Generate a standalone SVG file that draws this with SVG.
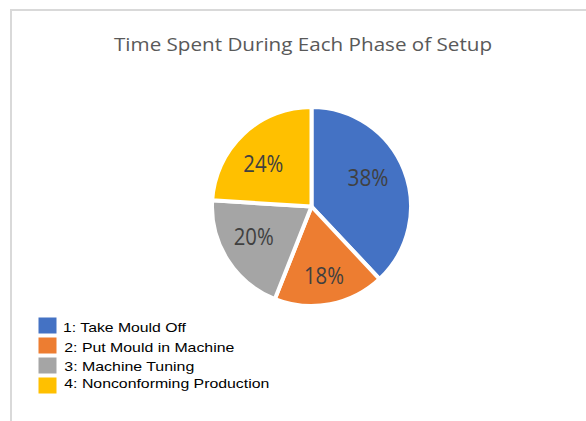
<svg xmlns="http://www.w3.org/2000/svg" width="586" height="421" viewBox="0 0 586 421">
  <style>
    .title { font-family: "Open Sans", "Liberation Sans", sans-serif; font-size: 18px; fill: #595959; }
    .pct { font-family: "Open Sans", "Liberation Sans", sans-serif; font-size: 23px; fill: #404040; text-anchor: middle; }
    .leg { font-family: "Liberation Sans", Arial, sans-serif; font-size: 13.5px; fill: #000000; }
    .slice { stroke: #ffffff; stroke-width: 4; stroke-linejoin: round; }
    .frame { stroke: #d9d9d9; stroke-width: 2; fill: none; }
  </style>

  <rect width="586" height="421" fill="#ffffff"/>

  <!-- chart area frame -->
  <path class="frame" d="M11 421 V10 H586"/>

  <text class="title" x="114" y="51" textLength="378" lengthAdjust="spacingAndGlyphs">Time Spent During Each Phase of Setup</text>

  <!-- pie, centre (311.5, 206.5), r 99.5, clockwise from 12 o'clock -->
  <g id="slice-take-mould-off">
    <path class="slice" fill="#4472C4" d="M311.5 206.5 L311.5 107 A99.5 99.5 0 0 1 379.61 279.04 Z"/>
    <text class="pct" x="368" y="186" textLength="41" lengthAdjust="spacingAndGlyphs">38%</text>
  </g>
  <g id="slice-put-mould-in-machine">
    <path class="slice" fill="#ED7D31" d="M311.5 206.5 L379.61 279.04 A99.5 99.5 0 0 1 274.87 299.02 Z"/>
    <text class="pct" x="324" y="283.5" textLength="40" lengthAdjust="spacingAndGlyphs">18%</text>
  </g>
  <g id="slice-machine-tuning">
    <path class="slice" fill="#A5A5A5" d="M311.5 206.5 L274.87 299.02 A99.5 99.5 0 0 1 212.2 200.25 Z"/>
    <text class="pct" x="253.7" y="245" textLength="40" lengthAdjust="spacingAndGlyphs">20%</text>
  </g>
  <g id="slice-nonconforming-production">
    <path class="slice" fill="#FFC000" d="M311.5 206.5 L212.2 200.25 A99.5 99.5 0 0 1 311.5 107 Z"/>
    <text class="pct" x="263.3" y="171.7" textLength="40" lengthAdjust="spacingAndGlyphs">24%</text>
  </g>

  <!-- legend -->
  <g id="legend-1">
    <rect x="38.5" y="317.5" width="18" height="16" fill="#4472C4"/>
    <text class="leg" x="63" y="332.3" textLength="123" lengthAdjust="spacingAndGlyphs">1: Take Mould Off</text>
  </g>
  <g id="legend-2">
    <rect x="38.5" y="337.5" width="18" height="16" fill="#ED7D31"/>
    <text class="leg" x="64.3" y="351.8" textLength="170" lengthAdjust="spacingAndGlyphs">2: Put Mould in Machine</text>
  </g>
  <g id="legend-3">
    <rect x="38.5" y="357.5" width="18" height="16" fill="#A5A5A5"/>
    <text class="leg" x="64.3" y="370.8" textLength="130" lengthAdjust="spacingAndGlyphs">3: Machine Tuning</text>
  </g>
  <g id="legend-4">
    <rect x="38.5" y="377.5" width="18" height="16" fill="#FFC000"/>
    <text class="leg" x="64.3" y="388.3" textLength="205" lengthAdjust="spacingAndGlyphs">4: Nonconforming Production</text>
  </g>
</svg>
